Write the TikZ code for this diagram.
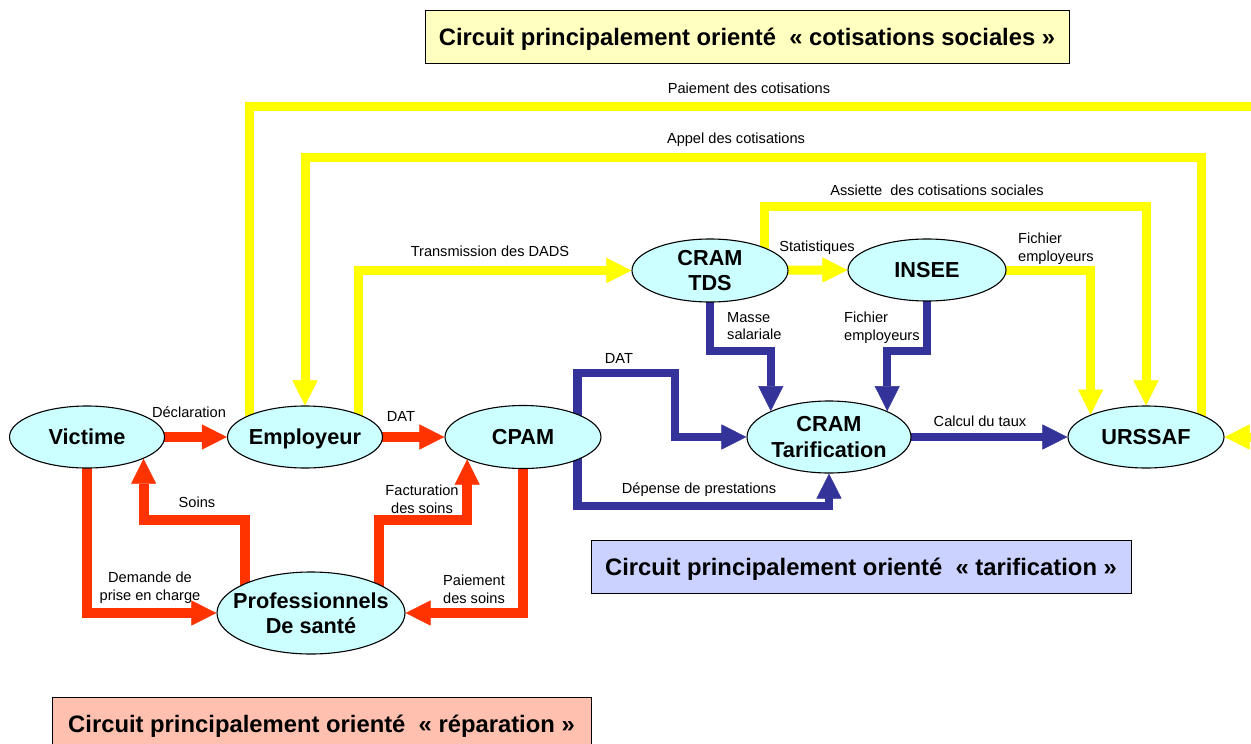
\documentclass[tikz,border=0pt]{standalone}
\usepackage{fontspec}
\setmainfont{Liberation Sans}
\usetikzlibrary{shapes.geometric,arrows.meta}
\definecolor{redc}{HTML}{FF3300}
\definecolor{yelc}{HTML}{FFFF00}
\definecolor{bluc}{HTML}{333399}
\definecolor{ellfill}{HTML}{CCFFFF}
\definecolor{boxyel}{HTML}{FFFFC0}
\definecolor{boxblu}{HTML}{CCD2FF}
\definecolor{boxpnk}{HTML}{FFC0B0}
\pgfdeclarelayer{bg}
\pgfsetlayers{bg,main}
\begin{document}
\begin{tikzpicture}[x=1pt,y=-1pt,
  ell/.style={ellipse, draw=black, line width=1.1pt, fill=ellfill, inner sep=0pt},
  ntxt/.style={font=\fontsize{21.7}{25.5}\selectfont\bfseries, align=center, inner sep=0pt, text depth=0pt},
  lab/.style={font=\fontsize{14.6}{17.6}\selectfont, inner sep=0pt, text depth=0pt},
  ttl/.style={draw=black, line width=1pt, font=\fontsize{23.8}{28}\selectfont\bfseries, inner sep=0pt, text depth=0pt, minimum height=53pt},
  conn/.style={-{Triangle[width=25pt,length=25pt,line width=0.5pt]}},
  rf/.style={conn, draw=redc, line width=10pt},
  yf/.style={conn, draw=yelc, line width=9pt},
  bf/.style={conn, draw=bluc, line width=8.5pt}]
\useasboundingbox (0,0) rectangle (1251,744);

% title boxes
\node[ttl, fill=boxyel, minimum width=644pt] (tcot) at (747,36.5) {Circuit principalement orienté\ \ «\ cotisations sociales\ »};
\node[ttl, fill=boxblu, minimum width=540pt] (ttar) at (861,566.5) {Circuit principalement orienté\ \ «\ tarification\ »};
\node[ttl, fill=boxpnk, minimum width=539pt] (trep) at (321.5,723.5) {Circuit principalement orienté\ \ «\ réparation\ »};

% ellipses
\node[ell, minimum width=155pt, minimum height=62pt] (vic) at (87,437) {};
\node[ell, minimum width=155pt, minimum height=62pt] (emp) at (305,437) {};
\node[ell, minimum width=156pt, minimum height=63pt] (cpam) at (523,437) {};
\node[ell, minimum width=164pt, minimum height=72pt] (tar) at (829,437) {};
\node[ell, minimum width=156pt, minimum height=62pt] (urs) at (1146,437) {};
\node[ell, minimum width=156pt, minimum height=63pt] (tds) at (710,270.5) {};
\node[ell, minimum width=158pt, minimum height=62pt] (ins) at (927,270) {};
\node[ell, minimum width=188pt, minimum height=82pt] (pro) at (311,613) {};

\node[ntxt] (vicT) at (vic.center) {Victime};
\node[ntxt] (empT) at (emp.center) {Employeur};
\node[ntxt] (cpamT) at (cpam.center) {CPAM};
\node[ntxt] (tarT) at (tar.center) {CRAM\\Tarification};
\node[ntxt] (ursT) at (urs.center) {URSSAF};
\node[ntxt] (tdsT) at (tds.center) {CRAM\\TDS};
\node[ntxt] (insT) at (ins.center) {INSEE};
\node[ntxt] (proT) at (pro.center) {Professionnels\\De santé};

% bend levels
\coordinate (ysoins) at (0,520);
\coordinate (ydep) at (0,506);
\coordinate (ymass) at (0,351);
\coordinate (bdat) at (675,373);
\coordinate (payR) at (1280,106);
\coordinate (yapp) at (0,157);
\coordinate (yass) at (0,206);

\begin{pgfonlayer}{bg}
% red
\draw[rf] (vic.center) -- (emp.west);
\draw[rf] (emp.center) -- (cpam.west);
\draw[rf] (vic.center) |- (pro.west);
\draw[rf] (pro.center -| pro.156) -- (pro.156 |- ysoins) -| (vic.339);
\draw[rf] (pro.center -| pro.23) -- (pro.23 |- ysoins) -| (cpam.202);
\draw[rf] (cpam.center) |- (pro.east);
% blue
\draw[bf] (cpam.center -| cpam.23) |- (bdat) |- (tar.west);
\draw[bf] (cpam.center -| cpam.337) -- (cpam.337 |- ydep) -| (tar.south);
\draw[bf] (tds.center) -- (tds.center |- ymass) -| (tar.156);
\draw[bf] (ins.center) -- (ins.center |- ymass) -| (tar.24);
\draw[bf] (tar.center) -- (urs.west);
% yellow
\draw[yf] (emp.center -| emp.158) |- (payR) |- (urs.east);
\draw[yf] (urs.center -| urs.22) -- (urs.22 |- yapp) -| (emp.north);
\draw[yf] (emp.center -| emp.23) |- (tds.west);
\draw[yf] (tds.center) -- (ins.west);
\draw[yf] (tds.center -| tds.23) -- (tds.23 |- yass) -| (urs.north);
\draw[yf] (ins.center) -| (urs.158);
\end{pgfonlayer}

% labels
\node[lab] (lDecl) at (189,412) {Déclaration};
\node[lab] (lDat1) at (401,416) {DAT};
\node[lab] (lSoins) at (197,502.5) {Soins};
\node[lab, align=center] (lDem) at (150,586) {Demande de\\prise en charge};
\node[lab, align=center] (lFact) at (422,499) {Facturation\\des soins};
\node[lab, align=center] (lPai) at (474,589.5) {Paiement\\des soins};
\node[lab] (lDat2) at (619,358) {DAT};
\node[lab] (lDep) at (699,488) {Dépense de prestations};
\node[lab, align=left, anchor=west] (lMasse) at (727,326) {Masse\\salariale};
\node[lab, align=left, anchor=west] (lFichB) at (844,326) {Fichier\\employeurs};
\node[lab, align=left, anchor=west] (lFichY) at (1018,247.5) {Fichier\\employeurs};
\node[lab] (lStat) at (817,246) {Statistiques};
\node[lab] (lCalc) at (980,421) {Calcul du taux};
\node[lab] (lTrans) at (490,251) {Transmission des DADS};
\node[lab] (lAss) at (937,190) {Assiette\ \ des cotisations sociales};
\node[lab] (lPay) at (749,88) {Paiement des cotisations};
\node[lab] (lApp) at (736,138) {Appel des cotisations};
\end{tikzpicture}
\end{document}
